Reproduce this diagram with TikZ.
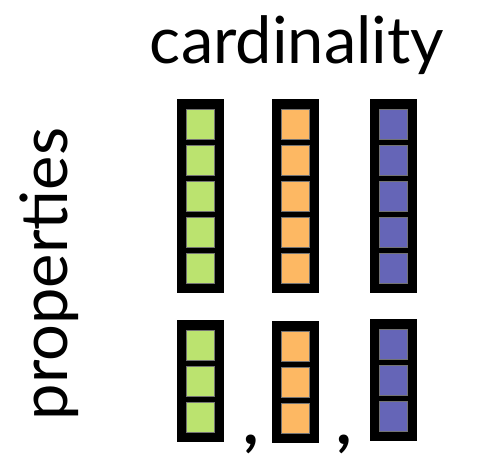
\documentclass[tikz,border=0pt]{standalone}
\usepackage{fontspec}
\setmainfont{Lato}
\definecolor{cgreen}{HTML}{BBE36F}
\definecolor{corange}{HTML}{FDB863}
\definecolor{cpurple}{HTML}{6565B7}
\tikzset{
  colframe/.style={fill=black, draw=none},
  colcell/.style={draw=black!55, line width=0.6pt},
  lbl/.style={inner sep=0pt, font=\fontsize{65}{72}\selectfont},
  sep/.style={inner sep=0pt, font=\fontsize{66}{72}\selectfont\bfseries},
}
\newcommand\mycolumn[5]{%
  \path[colframe] (#1,#2) rectangle ++(47,{20+#3*30+(#3-1)*6});
  \foreach \i in {1,...,#3}{
    \path[colcell, fill=#4] ({#1+9.5},{#2+10+(\i-1)*36}) rectangle ++(28,30);
  }
  \coordinate (#5) at ({#1+23.5},#2);
}
\begin{document}
\begin{tikzpicture}[x=1pt,y=-1pt]
\useasboundingbox (0,0) rectangle (481,456);
\node[lbl, anchor=base] (card) at (297,63) {cardinality};
\node[lbl, anchor=base, rotate=90] (prop) at (67,274) {properties};
\mycolumn{177}{99}{5}{cgreen}{tg}
\mycolumn{272}{99}{5}{corange}{to}
\mycolumn{370}{99}{5}{cpurple}{tp}
\mycolumn{177}{320}{3}{cgreen}{bg}
\mycolumn{272}{321}{3}{corange}{bo}
\mycolumn{370}{319}{3}{cpurple}{bp}
\node[sep, anchor=base] (c1) at (251,444) {,};
\node[sep, anchor=base] (c2) at (344,444) {,};
\end{tikzpicture}
\end{document}
